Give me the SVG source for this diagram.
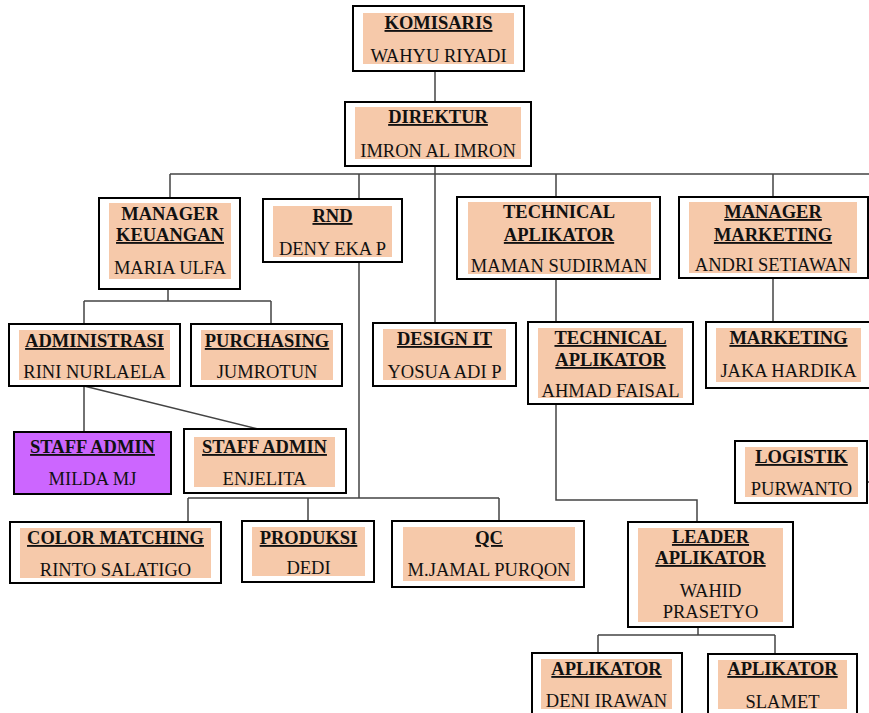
<svg xmlns="http://www.w3.org/2000/svg" width="869" height="713" viewBox="0 0 869 713">
<style>
.bg{fill:#ffffff}
.box{fill:#ffffff;stroke:#000;stroke-width:2}
.purple{fill:#CC66FF;stroke:#000;stroke-width:2}
.in{fill:#F6C9AA}
text{font-family:"Liberation Serif","Times New Roman",serif;font-size:18.5px;fill:#111;text-anchor:middle}
.t{font-weight:bold;text-decoration:underline}
.tb{font-weight:bold}
.c{stroke:#444;stroke-width:1.5;fill:none}
</style>
<rect class="bg" x="0" y="0" width="869" height="713"/>
<g id="connectors">
<path class="c" d="M435,71V102"/>
<path class="c" d="M435,166V323"/>
<path class="c" d="M170,174H869M170,174V198M359,174V199M556,174V197M773,174V197"/>
<path class="c" d="M168,289V301M84,301H271M84,301V324M271,301V324"/>
<path class="c" d="M84,386V432M84,386L258,429"/>
<path class="c" d="M359,262V498M188,498H499M188,498V522M308,498V521M499,498V521"/>
<path class="c" d="M556,279V322"/>
<path class="c" d="M773,278V322"/>
<path class="c" d="M556,404V500H697V522"/>
<path class="c" d="M698,627V635M598,635H775M598,635V653M775,635V654"/>
<path class="c" d="M867,482H869"/>
</g>
<g id="komisaris">
<rect class="box" x="353" y="6" width="171" height="65"/>
<rect class="in" x="363" y="13" width="151" height="51"/>
<text class="t" x="438.5" y="29">KOMISARIS</text>
<text x="438.5" y="62">WAHYU RIYADI</text>
</g>
<g id="direktur">
<rect class="box" x="345" y="102" width="186" height="64"/>
<rect class="in" x="355" y="107" width="166" height="52"/>
<text class="t" x="438" y="123">DIREKTUR</text>
<text x="438" y="157">IMRON AL IMRON</text>
</g>
<g id="manager-keuangan">
<rect class="box" x="99" y="198" width="141" height="91"/>
<rect class="in" x="109" y="203" width="122" height="76"/>
<text class="tb" x="170" y="220">MANAGER</text>
<text class="t" x="170" y="241">KEUANGAN</text>
<text x="170" y="274">MARIA ULFA</text>
</g>
<g id="rnd">
<rect class="box" x="263" y="199" width="139" height="63"/>
<rect class="in" x="273" y="206" width="119" height="51"/>
<text class="t" x="332.5" y="222">RND</text>
<text x="332.5" y="255">DENY EKA P</text>
</g>
<g id="technical-aplikator-1">
<rect class="box" x="457" y="197" width="203" height="82"/>
<rect class="in" x="468" y="202" width="183" height="72"/>
<text class="tb" x="559" y="218">TECHNICAL</text>
<text class="t" x="559" y="241">APLIKATOR</text>
<text x="559" y="272">MAMAN SUDIRMAN</text>
</g>
<g id="manager-marketing">
<rect class="box" x="679" y="197" width="189" height="81"/>
<rect class="in" x="689" y="202" width="168" height="71"/>
<text class="t" x="773" y="218">MANAGER</text>
<text class="t" x="773" y="241">MARKETING</text>
<text x="773" y="271">ANDRI SETIAWAN</text>
</g>
<g id="administrasi">
<rect class="box" x="9" y="324" width="171" height="62"/>
<rect class="in" x="19" y="330" width="151" height="50"/>
<text class="t" x="94.5" y="347">ADMINISTRASI</text>
<text x="94.5" y="378">RINI NURLAELA</text>
</g>
<g id="purchasing">
<rect class="box" x="191" y="324" width="151" height="62"/>
<rect class="in" x="201" y="330" width="132" height="50"/>
<text class="t" x="267" y="347">PURCHASING</text>
<text x="267" y="378">JUMROTUN</text>
</g>
<g id="design-it">
<rect class="box" x="373" y="323" width="143" height="63"/>
<rect class="in" x="383" y="329" width="123" height="51"/>
<text class="t" x="444.5" y="345">DESIGN IT</text>
<text x="444.5" y="378">YOSUA ADI P</text>
</g>
<g id="technical-aplikator-2">
<rect class="box" x="528" y="322" width="165" height="82"/>
<rect class="in" x="538" y="328" width="145" height="70"/>
<text class="t" x="610.5" y="344">TECHNICAL</text>
<text class="t" x="610.5" y="366">APLIKATOR</text>
<text x="610.5" y="397">AHMAD FAISAL</text>
</g>
<g id="marketing">
<rect class="box" x="706" y="322" width="166" height="66"/>
<rect class="in" x="716" y="328" width="145" height="54"/>
<text class="t" x="788.5" y="344">MARKETING</text>
<text x="788.5" y="377">JAKA HARDIKA</text>
</g>
<g id="staff-admin-milda">
<rect class="purple" x="14" y="432" width="157" height="62"/>
<text class="t" x="92.5" y="453">STAFF ADMIN</text>
<text x="92.5" y="485">MILDA MJ</text>
</g>
<g id="staff-admin-enjelita">
<rect class="box" x="184" y="429" width="162" height="64"/>
<rect class="in" x="194" y="437" width="141" height="50"/>
<text class="t" x="264.5" y="453">STAFF ADMIN</text>
<text x="264.5" y="485">ENJELITA</text>
</g>
<g id="logistik">
<rect class="box" x="735" y="441" width="132" height="62"/>
<rect class="in" x="745" y="447" width="113" height="50"/>
<text class="t" x="801.5" y="463">LOGISTIK</text>
<text x="801.5" y="495">PURWANTO</text>
</g>
<g id="color-matching">
<rect class="box" x="10" y="522" width="211" height="61"/>
<rect class="in" x="20" y="528" width="191" height="50"/>
<text class="t" x="115.5" y="544">COLOR MATCHING</text>
<text x="115.5" y="576">RINTO SALATIGO</text>
</g>
<g id="produksi">
<rect class="box" x="242" y="521" width="132" height="61"/>
<rect class="in" x="252" y="527" width="113" height="49"/>
<text class="t" x="308.5" y="544">PRODUKSI</text>
<text x="308.5" y="574">DEDI</text>
</g>
<g id="qc">
<rect class="box" x="392" y="521" width="192" height="66"/>
<rect class="in" x="403" y="527" width="172" height="54"/>
<text class="t" x="489" y="544">QC</text>
<text x="489" y="576">M.JAMAL PURQON</text>
</g>
<g id="leader-aplikator">
<rect class="box" x="628" y="522" width="165" height="105"/>
<rect class="in" x="638" y="528" width="145" height="94"/>
<text class="t" x="710.5" y="543">LEADER</text>
<text class="t" x="710.5" y="564">APLIKATOR</text>
<text x="710.5" y="597">WAHID</text>
<text x="710.5" y="618">PRASETYO</text>
</g>
<g id="aplikator-deni">
<rect class="box" x="532" y="653" width="150" height="70"/>
<rect class="in" x="541" y="659" width="131" height="50"/>
<text class="t" x="606.5" y="675">APLIKATOR</text>
<text x="606.5" y="707">DENI IRAWAN</text>
</g>
<g id="aplikator-slamet">
<rect class="box" x="708" y="654" width="149" height="70"/>
<rect class="in" x="718" y="660" width="129" height="49"/>
<text class="t" x="782.5" y="675">APLIKATOR</text>
<text x="782.5" y="708">SLAMET</text>
</g>
</svg>
